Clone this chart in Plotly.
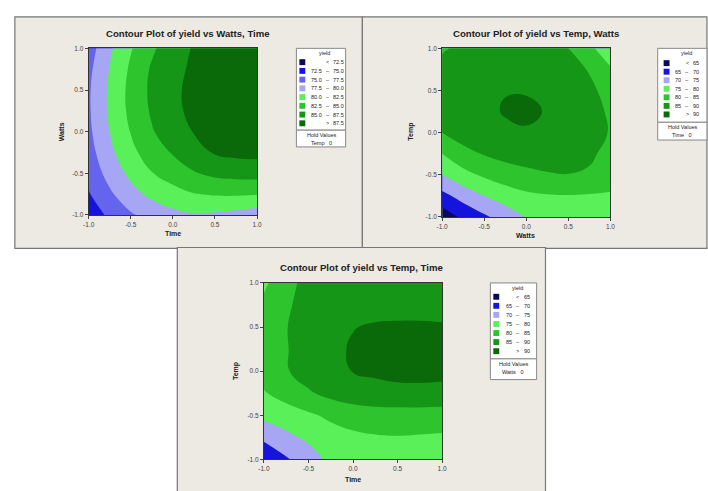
import plotly.graph_objects as go

FIG_W, FIG_H = 708, 491


def px(x):
    return x / FIG_W


def py(y):
    return 1 - y / FIG_H


# coded factor levels of the grid (same for every axis)
coded = [-1.0, -0.75, -0.5, -0.25, 0.0, 0.25, 0.5, 0.75, 1.0]
tick_vals = [-1.0, -0.5, 0.0, 0.5, 1.0]
tick_text = ["-1.0", "-0.5", "0.0", "0.5", "1.0"]

# yield: rows = y level (-1 -> 1), cols = x level (-1 -> 1)
# panel 1: x = Time, y = Watts (Temp held at 0)
yield_watts_time = [
    [73.5, 75.5, 77.2, 78.4, 79.3, 79.8, 79.6, 79.2, 78.6],
    [74.8, 77.1, 79.1, 80.6, 81.6, 82.4, 82.7, 82.8, 82.6],
    [75.8, 78.4, 80.6, 82.4, 83.6, 84.8, 85.6, 85.9, 86.0],
    [76.5, 79.4, 81.8, 83.8, 85.2, 86.7, 87.7, 88.1, 88.2],
    [77.0, 80.0, 82.6, 84.8, 86.3, 87.6, 88.8, 89.3, 89.4],
    [77.2, 80.4, 83.1, 85.3, 86.8, 88.2, 89.5, 90.0, 90.1],
    [77.2, 80.4, 83.2, 85.5, 86.9, 88.3, 89.8, 90.3, 90.3],
    [76.9, 80.1, 82.9, 85.3, 86.7, 88.0, 89.4, 89.9, 89.9],
    [76.3, 79.6, 82.3, 84.6, 86.4, 87.7, 88.6, 88.9, 88.8],
]
# panel 2: x = Watts, y = Temp (Time held at 0)
yield_temp_watts = [
    [62.0, 66.0, 69.2, 72.2, 75.2, 77.2, 78.4, 78.6, 77.8],
    [68.5, 72.0, 75.0, 77.4, 79.0, 79.6, 79.8, 79.6, 79.4],
    [75.0, 78.4, 80.8, 82.6, 83.8, 84.6, 84.9, 84.4, 82.4],
    [80.0, 83.5, 85.3, 86.6, 87.2, 87.4, 87.0, 85.8, 83.6],
    [85.0, 87.2, 88.6, 89.5, 89.7, 89.6, 88.9, 87.4, 84.6],
    [86.6, 88.4, 89.4, 90.2, 90.6, 89.8, 88.8, 87.0, 84.2],
    [87.2, 88.6, 89.4, 89.9, 89.8, 89.2, 88.2, 86.2, 83.0],
    [86.5, 87.8, 88.7, 89.2, 89.2, 88.6, 87.2, 84.6, 80.5],
    [84.5, 86.0, 87.0, 87.6, 87.6, 86.8, 85.0, 81.0, 77.0],
]
# panel 3: x = Time, y = Temp (Watts held at 0)
yield_temp_time = [
    [66.0, 69.4, 72.6, 76.2, 77.4, 78.0, 78.4, 78.2, 77.6],
    [71.0, 73.8, 76.0, 77.8, 79.0, 79.6, 79.8, 79.6, 79.4],
    [76.4, 77.6, 79.2, 81.0, 82.2, 82.6, 82.6, 82.6, 82.4],
    [79.6, 82.0, 84.4, 86.4, 87.8, 88.7, 89.2, 89.3, 89.2],
    [82.2, 84.6, 87.2, 89.1, 90.1, 90.6, 90.8, 90.8, 90.7],
    [82.6, 84.7, 87.4, 89.3, 90.3, 90.8, 91.0, 91.0, 90.9],
    [82.4, 84.8, 87.6, 89.1, 89.9, 90.3, 90.4, 90.4, 90.3],
    [81.2, 84.4, 86.6, 87.8, 88.5, 88.9, 89.0, 89.0, 88.9],
    [79.0, 83.8, 86.2, 87.0, 87.6, 87.9, 88.0, 88.0, 87.9],
]

levels1 = (72.5, 87.5, 2.5)
levels23 = (65, 90, 5)

colors1 = ["#0A0A5A", "#1414DC", "#6464EE", "#A6A6F4", "#5AF05A", "#2DC42D", "#169616", "#0A6A0A"]
colors23 = ["#0A0A5A", "#1414DC", "#A6A6F4", "#5AF05A", "#2DC42D", "#169616", "#0A6A0A"]

labels1 = [("", "<", "72.5"), ("72.5", "–", "75.0"), ("75.0", "–", "77.5"), ("77.5", "–", "80.0"),
           ("80.0", "–", "82.5"), ("82.5", "–", "85.0"), ("85.0", "–", "87.5"), ("", ">", "87.5")]
labels23 = [("", "<", "65"), ("65", "–", "70"), ("70", "–", "75"), ("75", "–", "80"),
            ("80", "–", "85"), ("85", "–", "90"), ("", ">", "90")]

titles = ["Contour Plot of yield vs Watts, Time",
          "Contour Plot of yield vs Temp, Watts",
          "Contour Plot of yield vs Temp, Time"]


def ctrace(z, colors, lv, xa, ya):
    n = len(colors)
    cs = [[k / (n - 1), c] for k, c in enumerate(colors)]
    return go.Contour(x=coded, y=coded, z=z, xaxis=xa, yaxis=ya, autocontour=False,
                      contours=dict(start=lv[0], end=lv[1], size=lv[2], coloring="fill", showlines=False),
                      colorscale=cs, showscale=False, line=dict(width=0, smoothing=1.3),
                      hoverinfo="skip")


fig = go.Figure()
fig.add_trace(ctrace(yield_watts_time, colors1, levels1, "x", "y"))
fig.add_trace(ctrace(yield_temp_watts, colors23, levels23, "x2", "y2"))
fig.add_trace(ctrace(yield_temp_time, colors23, levels23, "x3", "y3"))

FONT = "Liberation Sans"


def axis(domain, anchor):
    return dict(domain=domain, anchor=anchor, range=[-1, 1], tickvals=tick_vals, ticktext=tick_text,
                ticks="outside", ticklen=3, tickwidth=1, tickcolor="#444", showline=True,
                linecolor="#333", linewidth=1, mirror=True, showgrid=False, zeroline=False,
                tickfont=dict(family=FONT, size=6.5, color="#444"), fixedrange=True)


shapes = []
annots = []

for (x0, y0, x1, y1) in [(9, 13, 362, 248), (362, 13, 712, 248), (174, 247, 548, 495)]:
    shapes.append(dict(type="rect", xref="paper", yref="paper", x0=px(x0), x1=px(x1), y0=py(y1), y1=py(y0),
                       fillcolor="#EDE9E3", line=dict(color="#777777", width=1.2), layer="below"))


def text(x, y, s, size=6, bold=False, angle=0, color="#222", xanchor="center"):
    annots.append(dict(xref="paper", yref="paper", x=px(x), y=py(y), text=("<b>%s</b>" % s) if bold else s,
                       showarrow=False, xanchor=xanchor, yanchor="middle", textangle=angle,
                       font=dict(family=FONT, size=size, color=color)))


text(185, 30, titles[0], 9.6, True)
text(538, 30, titles[1], 9.6, True)
text(361, 267, titles[2], 9.6, True)
text(170, 233, "Time", 7, True)
text(56, 130, "Watts", 7, True, -90)
text(528, 235, "Watts", 7, True)
text(412, 130, "Temp", 7, True, -90)
text(352, 482, "Time", 7, True)
text(233, 372, "Temp", 7, True, -90)


def legend(x0, x1, ytop, yhold, ybot, colors, labels, hold, row0, dy, swx, cols):
    shapes.append(dict(type="rect", xref="paper", yref="paper", x0=px(x0), x1=px(x1), y0=py(yhold), y1=py(ytop),
                       fillcolor="white", line=dict(color="#888", width=1)))
    shapes.append(dict(type="rect", xref="paper", yref="paper", x0=px(x0), x1=px(x1), y0=py(ybot), y1=py(yhold),
                       fillcolor="white", line=dict(color="#888", width=1)))
    text((x0 + x1) / 2 + 4, ytop + 5, "yield", 5.5)
    for k, (c, lab) in enumerate(zip(colors, labels)):
        yc = row0 + k * dy
        shapes.append(dict(type="rect", xref="paper", yref="paper", x0=px(swx), x1=px(swx + 6),
                           y0=py(yc + 3), y1=py(yc - 3), fillcolor=c, line=dict(width=0)))
        text(cols[0], yc, lab[0], 5.5)
        text(cols[1], yc, lab[1], 5.5)
        text(cols[2], yc, lab[2], 5.5)
    text((x0 + x1) / 2, yhold + 5, "Hold Values", 5.5)
    text((x0 + x1) / 2, yhold + 13, hold, 5.5)


legend(295, 345, 45, 128, 145, colors1, labels1, "Temp   0", 59, 8.86, 298, (315, 327, 338))
legend(662, 712, 45, 120, 138, colors23, labels23, "Time   0", 60, 8.67, 668, (683, 692, 701))
legend(492, 539, 283, 360, 381, colors23, labels23, "Watts   0", 297, 9.2, 495, (511, 520, 529))

fig.update_layout(
    width=FIG_W, height=FIG_H, margin=dict(l=0, r=0, t=0, b=0),
    paper_bgcolor="white", plot_bgcolor="white", showlegend=False,
    xaxis=axis([84 / FIG_W, 255 / FIG_W], "y"),
    yaxis=axis([1 - 214 / FIG_H, 1 - 45 / FIG_H], "x"),
    xaxis2=axis([443 / FIG_W, 614 / FIG_W], "y2"),
    yaxis2=axis([1 - 216 / FIG_H, 1 - 45 / FIG_H], "x2"),
    xaxis3=axis([262 / FIG_W, 443 / FIG_W], "y3"),
    yaxis3=axis([1 - 462 / FIG_H, 1 - 283 / FIG_H], "x3"),
    shapes=shapes, annotations=annots,
)

fig.write_html("out.html", config={"displayModeBar": False},
               post_script="document.body.style.margin='0px';document.body.style.overflow='hidden';")
